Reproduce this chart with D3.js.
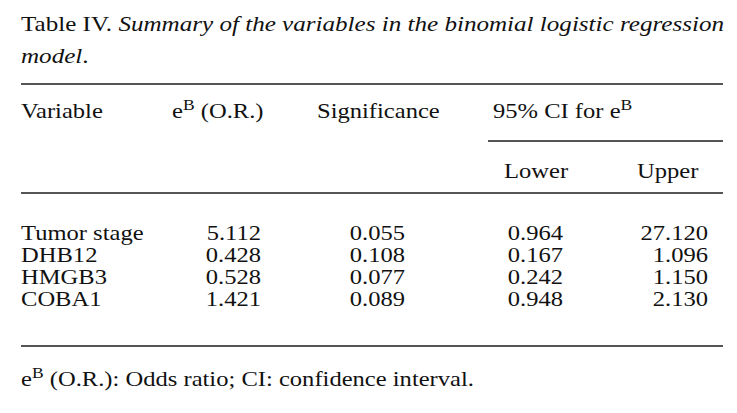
<!DOCTYPE html>
<html>
<head>
<meta charset="utf-8">
<script src="https://cdn.jsdelivr.net/npm/d3@7"></script>
<style>
  body { margin: 0; background: #fff; }
  text { font-family: "Liberation Serif", "Times New Roman", serif; fill: #111; }
</style>
</head>
<body>
<div id="chart"></div>
<script>
const variables = ["Tumor stage", "DHB12", "HMGB3", "COBA1"];
const oddsRatio = [5.112, 0.428, 0.528, 1.421];
const significance = [0.055, 0.108, 0.077, 0.089];
const ciLower = [0.964, 0.167, 0.242, 0.948];
const ciUpper = [27.120, 1.096, 1.150, 2.130];
const columns = ["variable", "or", "sig", "lower", "upper"];

const W = 737, H = 413;
const fs = 21, sx = 1.17;
const fmt = d3.format(".3f");

const svg = d3.select("#chart")
  .append("svg")
  .attr("width", W)
  .attr("height", H);

// column anchors: first column left aligned, numbers right aligned
const colX = d3.scaleOrdinal().domain(columns).range([21, 261, 405, 563, 708]);
const rowY = d3.scaleLinear().domain([0, variables.length - 1]).range([240, 306]);

function txt(x, y, anchor, scaleX) {
  return svg.append("text")
    .attr("transform", `translate(${x},${y}) scale(${scaleX || sx},1)`)
    .attr("text-anchor", anchor || "start")
    .style("font-size", fs + "px");
}

function rule(x1, x2, y) {
  svg.append("line")
    .attr("x1", x1).attr("x2", x2)
    .attr("y1", y).attr("y2", y)
    .attr("stroke", "#1c1c1c")
    .attr("stroke-width", 1.6);
}

// e^B with superscript
function eB(t) {
  t.append("tspan").text("e");
  t.append("tspan").attr("dy", -8).style("font-size", "15px").text("B");
  return t.append("tspan").attr("dy", 8);
}

// Title
const t1 = txt(21, 31, "start", 1.195);
t1.append("tspan").text("Table IV. ");
t1.append("tspan").style("font-style", "italic")
  .text("Summary of the variables in the binomial logistic regression");
const t2 = txt(21, 63, "start", 1.195);
t2.append("tspan").style("font-style", "italic").text("model");
t2.append("tspan").text(".");

// Rules
rule(21, 723, 84);
rule(488, 723, 141);
rule(21, 723, 193);
rule(21, 723, 346);

// Header
txt(21, 118).text("Variable");
eB(txt(172, 118)).text(" (O.R.)");
txt(317, 118).text("Significance");
const ci = txt(493, 118);
ci.append("tspan").text("95% CI for ");
eB(ci);
txt(504, 178).text("Lower");
txt(637, 178).text("Upper");

// Body rows
const cols = [oddsRatio, significance, ciLower, ciUpper];
variables.forEach((v, i) => {
  txt(colX("variable"), rowY(i)).text(v);
  cols.forEach((arr, j) => {
    txt(colX(columns[j + 1]), rowY(i), "end").text(fmt(arr[i]));
  });
});

// Footnote
eB(txt(21, 386)).text(" (O.R.): Odds ratio; CI: confidence interval.");
</script>
</body>
</html>
